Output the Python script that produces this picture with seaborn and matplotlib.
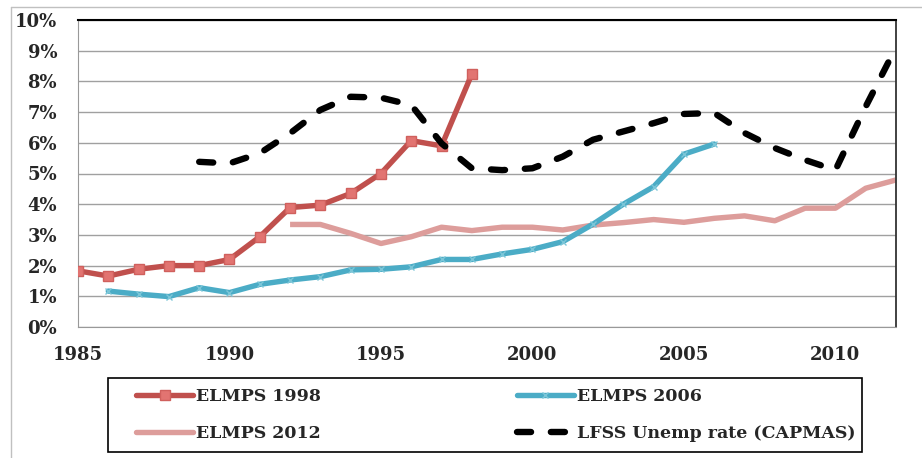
import matplotlib
matplotlib.use("Agg")
import matplotlib.pyplot as plt
import matplotlib.ticker as ticker
import matplotlib.patches as patches
from matplotlib.lines import Line2D
import seaborn as sns

# Values (unemployment rate, %).
years_1998 = list(range(1985, 1999))
elmps_1998 = [1.83, 1.66, 1.88, 2.0, 2.0, 2.2, 2.94, 3.89, 3.97, 4.35, 5.0, 6.07, 5.9, 8.24]

years_2006 = list(range(1986, 2007))
elmps_2006 = [1.17, 1.07, 0.99, 1.28, 1.12, 1.39, 1.53, 1.64, 1.86, 1.88, 1.96, 2.2, 2.2,
              2.38, 2.53, 2.78, 3.35, 4.0, 4.57, 5.63, 5.96]

years_2012 = list(range(1992, 2013))
elmps_2012 = [3.34, 3.34, 3.05, 2.72, 2.94, 3.25, 3.14, 3.25, 3.25, 3.16, 3.32, 3.4, 3.5,
              3.41, 3.54, 3.62, 3.46, 3.87, 3.87, 4.52, 4.79]

years_lfss = list(range(1989, 2013))
lfss = [5.38, 5.33, 5.66, 6.31, 7.07, 7.5, 7.47, 7.23, 5.98, 5.17, 5.11, 5.17, 5.55, 6.1,
        6.37, 6.64, 6.94, 6.97, 6.32, 5.83, 5.44, 5.11, 7.18, 9.11]

x_ticks = [1985, 1990, 1995, 2000, 2005, 2010]

sns.set_style("white")
plt.rcParams['font.family'] = ['DejaVu Serif']

fig = plt.figure(figsize=(9.22, 4.58), dpi=100)
ax = fig.add_axes([78 / 922, 1 - 327 / 458, (896 - 78) / 922, (327 - 20) / 458])

red = '#c0504d'
teal = '#4bacc6'
pink = '#dd9d9b'
lw = 3.9
dash = (0, (2.2, 3.1))

sns.lineplot(x=years_1998, y=elmps_1998, ax=ax, color=red, linewidth=lw, marker='s',
             markersize=7.5, markerfacecolor='#e27471', markeredgecolor='#d0605d',
             markeredgewidth=1, zorder=4)
sns.lineplot(x=years_2006, y=elmps_2006, ax=ax, color=teal, linewidth=lw, marker='x',
             markersize=5, markeredgecolor='#7cc6d8', markeredgewidth=1, zorder=3)
sns.lineplot(x=years_2012, y=elmps_2012, ax=ax, color=pink, linewidth=lw, zorder=2,
             solid_capstyle='butt')
sns.lineplot(x=years_lfss, y=lfss, ax=ax, color='black', linewidth=4.6,
             linestyle=dash, dash_capstyle='round', zorder=5)

ax.set_xlim(1985, 2012)
ax.set_ylim(0, 10)
ax.set_xticks(x_ticks)
ax.set_yticks(range(0, 11))
ax.yaxis.set_major_formatter(ticker.FuncFormatter(lambda v, _: f"{int(v)}%"))
ax.grid(axis='y', color='#a0a0a0', linewidth=1)
ax.set_axisbelow(True)

for label in ax.get_xticklabels() + ax.get_yticklabels():
    label.set_fontweight('bold')
    label.set_fontsize(13)
ax.tick_params(axis='both', which='major', direction='out', length=5, width=1,
               color='#999999')
ax.tick_params(axis='y', pad=10)
ax.tick_params(axis='x', pad=8.5)

ax.spines['left'].set_color('#999999')
ax.spines['bottom'].set_color('#999999')
ax.spines['top'].set_color('black')
ax.spines['top'].set_linewidth(1.5)
ax.spines['right'].set_color('#333333')
ax.spines['right'].set_linewidth(1.3)
for s in ax.spines.values():
    s.set_visible(True)

# Legend below the plot, with its own box
handles = [
    Line2D([], [], color=red, linewidth=lw, marker='s', markersize=7.5,
           markerfacecolor='#e27471', markeredgecolor='#d0605d'),
    Line2D([], [], color=pink, linewidth=lw),
    Line2D([], [], color=teal, linewidth=lw, marker='x', markersize=5,
           markeredgecolor='#7cc6d8'),
    Line2D([], [], color='black', linewidth=4.6, linestyle=dash,
           dash_capstyle='round'),
]
labels = ['ELMPS 1998', 'ELMPS 2012', 'ELMPS 2006', 'LFSS Unemp rate (CAPMAS)']
fig.legend(handles, labels, loc='center', ncol=2, mode='expand',
           bbox_to_anchor=(136 / 922, 1 - 452 / 458, (855 - 136) / 922, 74 / 458),
           bbox_transform=fig.transFigure, frameon=False, handlelength=3.3,
           handletextpad=0.15, borderaxespad=0, borderpad=0, labelspacing=1.15,
           prop={'family': 'DejaVu Serif', 'weight': 'bold', 'size': 12.5})
fig.add_artist(patches.Rectangle((108 / 922, 1 - 452 / 458), 754 / 922, 74 / 458,
                                 transform=fig.transFigure, fill=False,
                                 edgecolor='black', linewidth=1.2))

# Outer chart frame
fig.add_artist(Line2D([11 / 922, 11 / 922], [0, 1 - 7 / 458], color='#c0c0c0',
                      linewidth=1, transform=fig.transFigure))
fig.add_artist(Line2D([11 / 922, 1], [1 - 7 / 458, 1 - 7 / 458], color='#c0c0c0',
                      linewidth=1, transform=fig.transFigure))

fig.savefig('out.png', dpi=100)
